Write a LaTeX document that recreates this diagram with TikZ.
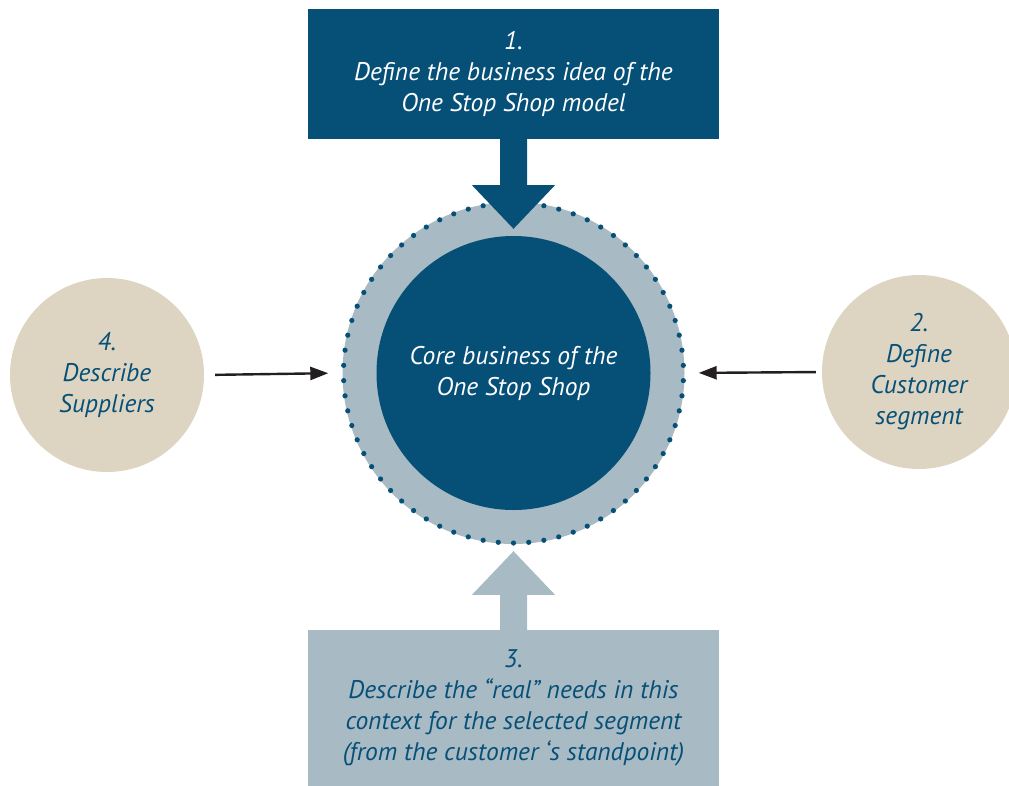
\documentclass[tikz,border=0pt]{standalone}
\usepackage{fontspec}
\setmainfont{PT Sans}
\usetikzlibrary{arrows.meta}
\definecolor{dblue}{RGB}{6,80,120}
\definecolor{grayblue}{RGB}{168,186,195}
\definecolor{beige}{RGB}{221,212,194}
\definecolor{arrowblack}{RGB}{35,31,32}
\begin{document}
\begin{tikzpicture}[x=1pt,y=-1pt,
  lbl/.style={font=\fontsize{25.5}{31}\selectfont\itshape, align=center},
  boxnode/.style={rectangle, minimum width=411pt, minimum height=130pt, inner sep=0pt, lbl},
  sidecircle/.style={circle, fill=beige, minimum size=194pt, inner sep=0pt, lbl, text=dblue},
  thinarrow/.style={draw=arrowblack, line width=2.4pt, -{Triangle[length=18pt,width=13pt]}}
]
\useasboundingbox (0,0) rectangle (1009,785);
\clip (0,0) rectangle (1009,785);
% ring
\node[circle, fill=grayblue, minimum size=342pt, inner sep=0pt] (ring) at (513.5,373) {};
\foreach \i in {0,...,69}
  \fill[dblue] ([shift={(90+\i*36/7:170pt)}]ring.center) circle (2.6pt);
\node[circle, fill=dblue, minimum size=274pt, inner sep=0pt] (core) at (513.5,373) {};
% top box
\node[boxnode, fill=dblue] (top) at (513.5,74) {};
% bottom box
\node[boxnode, fill=grayblue, minimum height=160pt] (bottom) at (513.5,710) {};
% top block arrow
\fill[dblue] ([xshift=-13.5pt,yshift=1pt]top.south) -- ([xshift=13.5pt,yshift=1pt]top.south)
  -- ([xshift=13.5pt,yshift=-46pt]top.south) -- ([xshift=41.5pt,yshift=-46pt]top.south)
  -- ([yshift=7pt]core.north)
  -- ([xshift=-41.5pt,yshift=-46pt]top.south) -- ([xshift=-13.5pt,yshift=-46pt]top.south) -- cycle;
% bottom block arrow
\fill[grayblue] ([xshift=-13.5pt,yshift=-1pt]bottom.north) -- ([xshift=13.5pt,yshift=-1pt]bottom.north)
  -- ([xshift=13.5pt,yshift=35pt]bottom.north) -- ([xshift=41.5pt,yshift=35pt]bottom.north)
  -- ([yshift=-7pt]ring.south)
  -- ([xshift=-41.5pt,yshift=35pt]bottom.north) -- ([xshift=-13.5pt,yshift=35pt]bottom.north) -- cycle;
% texts
\node[lbl, text=white] at (core.center) {Core business of the\\One Stop Shop};
\node[lbl, text=white] at (top.center) {1.\\Define the business idea of the\\One Stop Shop model};
\node[lbl, text=dblue] at ([yshift=2pt]bottom.center) {3.\\Describe the “real” needs in this\\context for the selected segment\\(from the customer ‘s standpoint)};
% side circles
\node[sidecircle] (sup) at (107,375) {4.\\Describe\\Suppliers};
\node[sidecircle] (cust) at (919,372) {2.\\Define\\Customer\\segment};
% side arrows
\draw[thinarrow, shorten <=11pt, shorten >=14pt] (sup.east) -- (ring.west);
\draw[thinarrow, shorten <=6pt, shorten >=14pt] (cust.west) -- (ring.east);
\end{tikzpicture}
\end{document}
